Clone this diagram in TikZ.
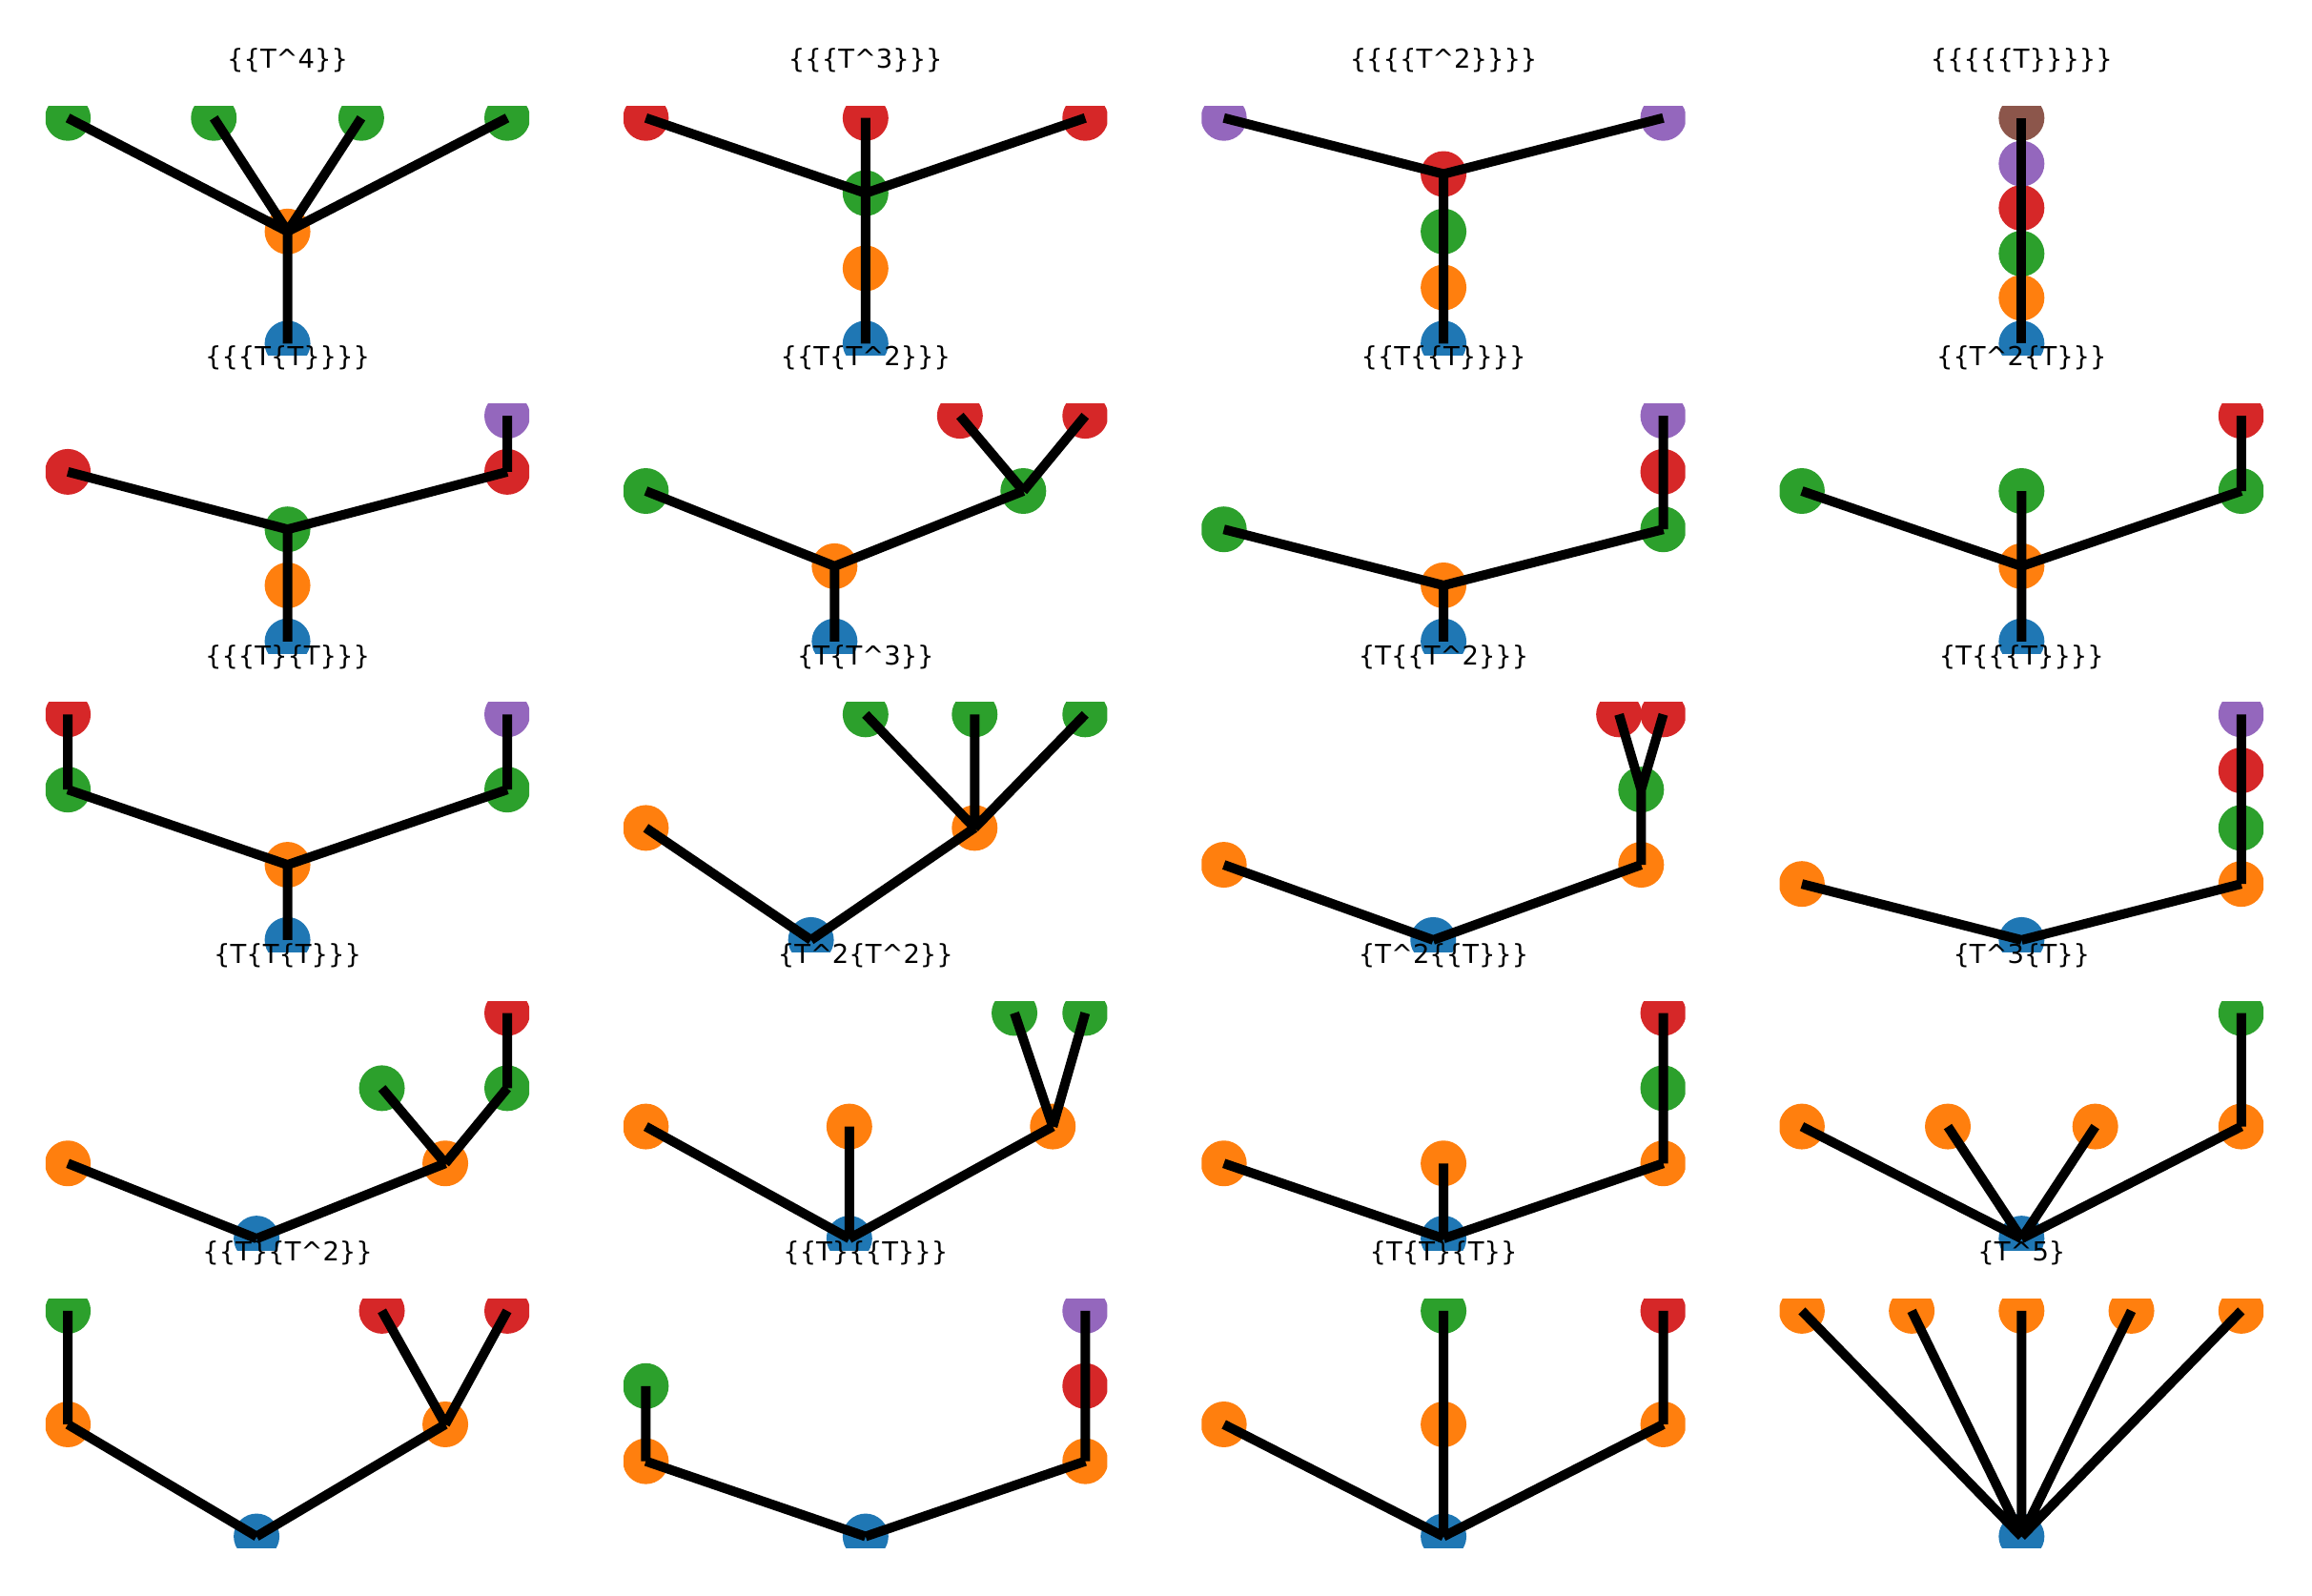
\documentclass[tikz,border=0pt]{standalone}
\usepackage{fontspec}
\setmainfont{DejaVu Sans}
\definecolor{tabblue}{HTML}{1F77B4}
\definecolor{taborange}{HTML}{FF7F0E}
\definecolor{tabgreen}{HTML}{2CA02C}
\definecolor{tabred}{HTML}{D62728}
\definecolor{tabpurple}{HTML}{9467BD}
\definecolor{tabbrown}{HTML}{8C564B}

\begin{document}
\begin{tikzpicture}[x = {(0.015466cm, 0cm)},
                    y = {(0cm, -0.015466cm)},
                    vtx/.style = {circle, inner sep = 0pt, minimum size = 0.48cm},
                    dotb/.style = {vtx, fill = tabblue},
                    doto/.style = {vtx, fill = taborange},
                    dotg/.style = {vtx, fill = tabgreen},
                    dotr/.style = {vtx, fill = tabred},
                    dotp/.style = {vtx, fill = tabpurple},
                    dotn/.style = {vtx, fill = tabbrown},
                    link/.style = {line width = 0.1cm},
                    heading/.style = {font = \fontsize{7.8}{9}\selectfont, inner sep = 0pt}]

  \useasboundingbox (0, 0) rectangle (1568, 1082);

  % row 1
  \begin{scope}[shift = {(46, 80)}]
    \node[heading] (head1) at (149, -39) {\{\{T\textasciicircum 4\}\}};
    \clip (-15, -8) rectangle (313, 161);
    \node[dotb] (a0) at (149, 153) {};
    \node[doto] (a1) at (149, 77) {};
    \node[dotg] (a2) at (0, 0) {};
    \node[dotg] (a3) at (99, 0) {};
    \node[dotg] (a4) at (199, 0) {};
    \node[dotg] (a5) at (298, 0) {};
    \draw[link] (a0.center) -- (a1.center) (a1.center) -- (a2.center) (a1.center) -- (a3.center)
                (a1.center) -- (a4.center) (a1.center) -- (a5.center);
  \end{scope}

  \begin{scope}[shift = {(438, 80)}]
    \node[heading] (head2) at (149, -39) {\{\{\{T\textasciicircum 3\}\}\}};
    \clip (-15, -8) rectangle (313, 161);
    \node[dotb] (b0) at (149, 153) {};
    \node[doto] (b1) at (149, 102) {};
    \node[dotg] (b2) at (149, 51) {};
    \node[dotr] (b3) at (0, 0) {};
    \node[dotr] (b4) at (149, 0) {};
    \node[dotr] (b5) at (298, 0) {};
    \draw[link] (b0.center) -- (b1.center) (b1.center) -- (b2.center) (b2.center) -- (b3.center)
                (b2.center) -- (b4.center) (b2.center) -- (b5.center);
  \end{scope}

  \begin{scope}[shift = {(830, 80)}]
    \node[heading] (head3) at (149, -39) {\{\{\{\{T\textasciicircum 2\}\}\}\}};
    \clip (-15, -8) rectangle (313, 161);
    \node[dotb] (c0) at (149, 153) {};
    \node[doto] (c1) at (149, 115) {};
    \node[dotg] (c2) at (149, 77) {};
    \node[dotr] (c3) at (149, 38) {};
    \node[dotp] (c4) at (0, 0) {};
    \node[dotp] (c5) at (298, 0) {};
    \draw[link] (c0.center) -- (c1.center) (c1.center) -- (c2.center) (c2.center) -- (c3.center)
                (c3.center) -- (c4.center) (c3.center) -- (c5.center);
  \end{scope}

  \begin{scope}[shift = {(1222, 80)}]
    \node[heading] (head4) at (149, -39) {\{\{\{\{\{T\}\}\}\}\}};
    \clip (-15, -8) rectangle (313, 161);
    \node[dotb] (d0) at (149, 153) {};
    \node[doto] (d1) at (149, 122) {};
    \node[dotg] (d2) at (149, 92) {};
    \node[dotr] (d3) at (149, 61) {};
    \node[dotp] (d4) at (149, 31) {};
    \node[dotn] (d5) at (149, 0) {};
    \draw[link] (d0.center) -- (d1.center) (d1.center) -- (d2.center) (d2.center) -- (d3.center)
                (d3.center) -- (d4.center) (d4.center) -- (d5.center);
  \end{scope}

  % row 2
  \begin{scope}[shift = {(46, 282)}]
    \node[heading] (head5) at (149, -39) {\{\{\{T\{T\}\}\}\}};
    \clip (-15, -8) rectangle (313, 161);
    \node[dotb] (e0) at (149, 153) {};
    \node[doto] (e1) at (149, 115) {};
    \node[dotg] (e2) at (149, 77) {};
    \node[dotr] (e3) at (0, 38) {};
    \node[dotr] (e4) at (298, 38) {};
    \node[dotp] (e5) at (298, 0) {};
    \draw[link] (e0.center) -- (e1.center) (e1.center) -- (e2.center) (e2.center) -- (e3.center)
                (e2.center) -- (e4.center) (e4.center) -- (e5.center);
  \end{scope}

  \begin{scope}[shift = {(438, 282)}]
    \node[heading] (head6) at (149, -39) {\{\{T\{T\textasciicircum 2\}\}\}};
    \clip (-15, -8) rectangle (313, 161);
    \node[dotb] (f0) at (128, 153) {};
    \node[doto] (f1) at (128, 102) {};
    \node[dotg] (f2) at (0, 51) {};
    \node[dotg] (f3) at (256, 51) {};
    \node[dotr] (f4) at (213, 0) {};
    \node[dotr] (f5) at (298, 0) {};
    \draw[link] (f0.center) -- (f1.center) (f1.center) -- (f2.center) (f1.center) -- (f3.center)
                (f3.center) -- (f4.center) (f3.center) -- (f5.center);
  \end{scope}

  \begin{scope}[shift = {(830, 282)}]
    \node[heading] (head7) at (149, -39) {\{\{T\{\{T\}\}\}\}};
    \clip (-15, -8) rectangle (313, 161);
    \node[dotb] (g0) at (149, 153) {};
    \node[doto] (g1) at (149, 115) {};
    \node[dotg] (g2) at (0, 77) {};
    \node[dotg] (g3) at (298, 77) {};
    \node[dotr] (g4) at (298, 38) {};
    \node[dotp] (g5) at (298, 0) {};
    \draw[link] (g0.center) -- (g1.center) (g1.center) -- (g2.center) (g1.center) -- (g3.center)
                (g3.center) -- (g4.center) (g4.center) -- (g5.center);
  \end{scope}

  \begin{scope}[shift = {(1222, 282)}]
    \node[heading] (head8) at (149, -39) {\{\{T\textasciicircum 2\{T\}\}\}};
    \clip (-15, -8) rectangle (313, 161);
    \node[dotb] (h0) at (149, 153) {};
    \node[doto] (h1) at (149, 102) {};
    \node[dotg] (h2) at (0, 51) {};
    \node[dotg] (h3) at (149, 51) {};
    \node[dotg] (h4) at (298, 51) {};
    \node[dotr] (h5) at (298, 0) {};
    \draw[link] (h0.center) -- (h1.center) (h1.center) -- (h2.center) (h1.center) -- (h3.center)
                (h1.center) -- (h4.center) (h4.center) -- (h5.center);
  \end{scope}

  % row 3
  \begin{scope}[shift = {(46, 484.5)}]
    \node[heading] (head9) at (149, -39) {\{\{\{T\}\{T\}\}\}};
    \clip (-15, -8) rectangle (313, 161);
    \node[dotb] (i0) at (149, 153) {};
    \node[doto] (i1) at (149, 102) {};
    \node[dotg] (i2) at (0, 51) {};
    \node[dotg] (i3) at (298, 51) {};
    \node[dotr] (i4) at (0, 0) {};
    \node[dotp] (i5) at (298, 0) {};
    \draw[link] (i0.center) -- (i1.center) (i1.center) -- (i2.center) (i1.center) -- (i3.center)
                (i2.center) -- (i4.center) (i3.center) -- (i5.center);
  \end{scope}

  \begin{scope}[shift = {(438, 484.5)}]
    \node[heading] (head10) at (149, -39) {\{T\{T\textasciicircum 3\}\}};
    \clip (-15, -8) rectangle (313, 161);
    \node[dotb] (j0) at (112, 153) {};
    \node[doto] (j1) at (0, 77) {};
    \node[doto] (j2) at (223, 77) {};
    \node[dotg] (j3) at (149, 0) {};
    \node[dotg] (j4) at (223, 0) {};
    \node[dotg] (j5) at (298, 0) {};
    \draw[link] (j0.center) -- (j1.center) (j0.center) -- (j2.center) (j2.center) -- (j3.center)
                (j2.center) -- (j4.center) (j2.center) -- (j5.center);
  \end{scope}

  \begin{scope}[shift = {(830, 484.5)}]
    \node[heading] (head11) at (149, -39) {\{T\{\{T\textasciicircum 2\}\}\}};
    \clip (-15, -8) rectangle (313, 161);
    \node[dotb] (k0) at (142, 153) {};
    \node[doto] (k1) at (0, 102) {};
    \node[doto] (k2) at (283, 102) {};
    \node[dotg] (k3) at (283, 51) {};
    \node[dotr] (k4) at (268, 0) {};
    \node[dotr] (k5) at (298, 0) {};
    \draw[link] (k0.center) -- (k1.center) (k0.center) -- (k2.center) (k2.center) -- (k3.center)
                (k3.center) -- (k4.center) (k3.center) -- (k5.center);
  \end{scope}

  \begin{scope}[shift = {(1222, 484.5)}]
    \node[heading] (head12) at (149, -39) {\{T\{\{\{T\}\}\}\}};
    \clip (-15, -8) rectangle (313, 161);
    \node[dotb] (l0) at (149, 153) {};
    \node[doto] (l1) at (0, 115) {};
    \node[doto] (l2) at (298, 115) {};
    \node[dotg] (l3) at (298, 77) {};
    \node[dotr] (l4) at (298, 38) {};
    \node[dotp] (l5) at (298, 0) {};
    \draw[link] (l0.center) -- (l1.center) (l0.center) -- (l2.center) (l2.center) -- (l3.center)
                (l3.center) -- (l4.center) (l4.center) -- (l5.center);
  \end{scope}

  % row 4
  \begin{scope}[shift = {(46, 687)}]
    \node[heading] (head13) at (149, -39) {\{T\{T\{T\}\}\}};
    \clip (-15, -8) rectangle (313, 161);
    \node[dotb] (m0) at (128, 153) {};
    \node[doto] (m1) at (0, 102) {};
    \node[doto] (m2) at (256, 102) {};
    \node[dotg] (m3) at (213, 51) {};
    \node[dotg] (m4) at (298, 51) {};
    \node[dotr] (m5) at (298, 0) {};
    \draw[link] (m0.center) -- (m1.center) (m0.center) -- (m2.center) (m2.center) -- (m3.center)
                (m2.center) -- (m4.center) (m4.center) -- (m5.center);
  \end{scope}

  \begin{scope}[shift = {(438, 687)}]
    \node[heading] (head14) at (149, -39) {\{T\textasciicircum 2\{T\textasciicircum 2\}\}};
    \clip (-15, -8) rectangle (313, 161);
    \node[dotb] (n0) at (138, 153) {};
    \node[doto] (n1) at (0, 77) {};
    \node[doto] (n2) at (138, 77) {};
    \node[doto] (n3) at (276, 77) {};
    \node[dotg] (n4) at (250, 0) {};
    \node[dotg] (n5) at (298, 0) {};
    \draw[link] (n0.center) -- (n1.center) (n0.center) -- (n2.center) (n0.center) -- (n3.center)
                (n3.center) -- (n4.center) (n3.center) -- (n5.center);
  \end{scope}

  \begin{scope}[shift = {(830, 687)}]
    \node[heading] (head15) at (149, -39) {\{T\textasciicircum 2\{\{T\}\}\}};
    \clip (-15, -8) rectangle (313, 161);
    \node[dotb] (o0) at (149, 153) {};
    \node[doto] (o1) at (0, 102) {};
    \node[doto] (o2) at (149, 102) {};
    \node[doto] (o3) at (298, 102) {};
    \node[dotg] (o4) at (298, 51) {};
    \node[dotr] (o5) at (298, 0) {};
    \draw[link] (o0.center) -- (o1.center) (o0.center) -- (o2.center) (o0.center) -- (o3.center)
                (o3.center) -- (o4.center) (o4.center) -- (o5.center);
  \end{scope}

  \begin{scope}[shift = {(1222, 687)}]
    \node[heading] (head16) at (149, -39) {\{T\textasciicircum 3\{T\}\}};
    \clip (-15, -8) rectangle (313, 161);
    \node[dotb] (p0) at (149, 153) {};
    \node[doto] (p1) at (0, 77) {};
    \node[doto] (p2) at (99, 77) {};
    \node[doto] (p3) at (199, 77) {};
    \node[doto] (p4) at (298, 77) {};
    \node[dotg] (p5) at (298, 0) {};
    \draw[link] (p0.center) -- (p1.center) (p0.center) -- (p2.center) (p0.center) -- (p3.center)
                (p0.center) -- (p4.center) (p4.center) -- (p5.center);
  \end{scope}

  % row 5
  \begin{scope}[shift = {(46, 889)}]
    \node[heading] (head17) at (149, -39) {\{\{T\}\{T\textasciicircum 2\}\}};
    \clip (-15, -8) rectangle (313, 161);
    \node[dotb] (q0) at (128, 153) {};
    \node[doto] (q1) at (0, 77) {};
    \node[doto] (q2) at (256, 77) {};
    \node[dotg] (q3) at (0, 0) {};
    \node[dotr] (q4) at (213, 0) {};
    \node[dotr] (q5) at (298, 0) {};
    \draw[link] (q0.center) -- (q1.center) (q0.center) -- (q2.center) (q1.center) -- (q3.center)
                (q2.center) -- (q4.center) (q2.center) -- (q5.center);
  \end{scope}

  \begin{scope}[shift = {(438, 889)}]
    \node[heading] (head18) at (149, -39) {\{\{T\}\{\{T\}\}\}};
    \clip (-15, -8) rectangle (313, 161);
    \node[dotb] (r0) at (149, 153) {};
    \node[doto] (r1) at (0, 102) {};
    \node[doto] (r2) at (298, 102) {};
    \node[dotg] (r3) at (0, 51) {};
    \node[dotr] (r4) at (298, 51) {};
    \node[dotp] (r5) at (298, 0) {};
    \draw[link] (r0.center) -- (r1.center) (r0.center) -- (r2.center) (r1.center) -- (r3.center)
                (r2.center) -- (r4.center) (r4.center) -- (r5.center);
  \end{scope}

  \begin{scope}[shift = {(830, 889)}]
    \node[heading] (head19) at (149, -39) {\{T\{T\}\{T\}\}};
    \clip (-15, -8) rectangle (313, 161);
    \node[dotb] (s0) at (149, 153) {};
    \node[doto] (s1) at (0, 77) {};
    \node[doto] (s2) at (149, 77) {};
    \node[doto] (s3) at (298, 77) {};
    \node[dotg] (s4) at (149, 0) {};
    \node[dotr] (s5) at (298, 0) {};
    \draw[link] (s0.center) -- (s1.center) (s0.center) -- (s2.center) (s0.center) -- (s3.center)
                (s2.center) -- (s4.center) (s3.center) -- (s5.center);
  \end{scope}

  \begin{scope}[shift = {(1222, 889)}]
    \node[heading] (head20) at (149, -39) {\{T\textasciicircum 5\}};
    \clip (-15, -8) rectangle (313, 161);
    \node[dotb] (t0) at (149, 153) {};
    \node[doto] (t1) at (0, 0) {};
    \node[doto] (t2) at (74.5, 0) {};
    \node[doto] (t3) at (149, 0) {};
    \node[doto] (t4) at (223.5, 0) {};
    \node[doto] (t5) at (298, 0) {};
    \draw[link] (t0.center) -- (t1.center) (t0.center) -- (t2.center) (t0.center) -- (t3.center)
                (t0.center) -- (t4.center) (t0.center) -- (t5.center);
  \end{scope}
\end{tikzpicture}
\end{document}
